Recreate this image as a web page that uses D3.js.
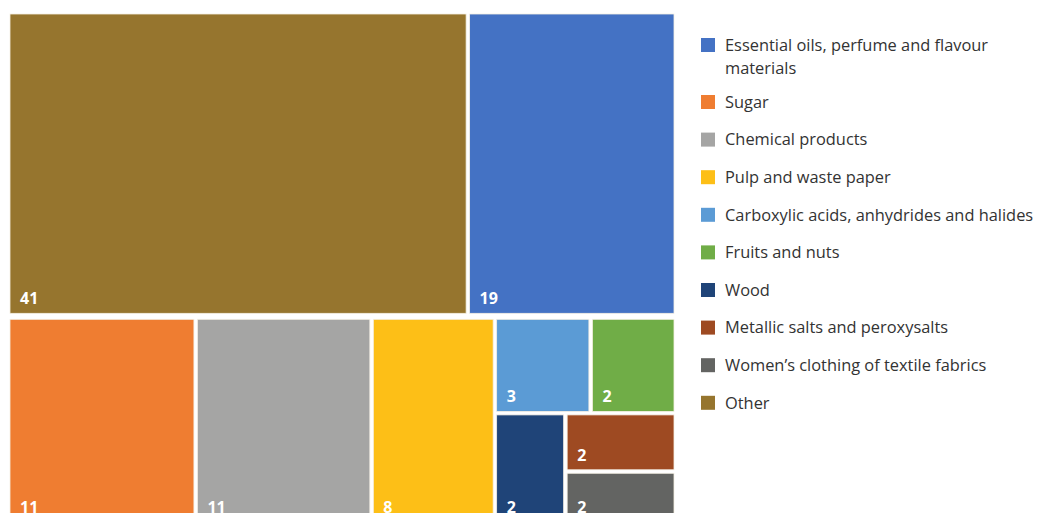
<!DOCTYPE html>
<html>
<head>
<meta charset="utf-8">
<script src="https://cdn.jsdelivr.net/npm/d3@7"></script>
<style>
  body { margin: 0; background: #fff; }
  svg { display: block; font-family: "Open Sans", "Noto Sans", sans-serif; }
</style>
</head>
<body>
<div id="chart"></div>
<script>
// categories in legend order
const categories = [
  'Essential oils, perfume and flavour materials',
  'Sugar',
  'Chemical products',
  'Pulp and waste paper',
  'Carboxylic acids, anhydrides and halides',
  'Fruits and nuts',
  'Wood',
  'Metallic salts and peroxysalts',
  'Women\u2019s clothing of textile fabrics',
  'Other'
];
const shares = [18.5, 11.4, 10.7, 7.5, 2.7, 2.4, 2.3, 1.9, 1.7, 40.9];
const labels = ['19', '11', '11', '8', '3', '2', '2', '2', '2', '41'];
const colors = ['#4472c4', '#ef7d31', '#a5a5a4', '#fdbf17', '#5b9bd5', '#70ad47',
                '#1f4478', '#9e4a22', '#636462', '#96752e'];

const width = 1040, height = 513;

const svg = d3.select('#chart').append('svg')
  .attr('width', width)
  .attr('height', height);

// group tiles the way the original layout nests them
const leaf = i => ({name: categories[i], value: shares[i], label: labels[i], color: colors[i]});
const tree = {dir: 'v', children: [
  {dir: 'h', children: [leaf(9), leaf(0)]},
  {dir: 'h', children: [leaf(1), leaf(2), leaf(3),
    {dir: 'v', children: [
      {dir: 'h', children: [leaf(4), leaf(5)]},
      {dir: 'h', children: [leaf(6), {dir: 'v', children: [leaf(7), leaf(8)]}]}
    ]}
  ]}
]};

const root = d3.hierarchy(tree).sum(d => d.value || 0);

d3.treemap()
  .tile((node, x0, y0, x1, y1) => {
    if (node.data.dir === 'v') d3.treemapSlice(node, x0, y0, x1, y1);
    else d3.treemapDice(node, x0, y0, x1, y1);
  })
  .size([664, 508])
  .paddingInner(d => d.depth === 0 ? 6 : 3.5)
  .round(false)(root);

const g = svg.append('g').attr('transform', 'translate(10,14)');

const cells = g.selectAll('g.cell')
  .data(root.leaves())
  .enter().append('g')
  .attr('class', 'cell')
  .attr('transform', d => `translate(${d.x0},${d.y0})`);

cells.append('rect')
  .attr('width', d => d.x1 - d.x0)
  .attr('height', d => d.y1 - d.y0)
  .attr('fill', d => d.data.color)
  .attr('stroke', '#f4efe4')
  .attr('stroke-width', 0.8);

cells.append('text')
  .attr('x', 10)
  .attr('y', d => d.y1 - d.y0 - 9)
  .attr('fill', '#fff')
  .style('font-size', '16px')
  .style('font-weight', 'bold')
  .text(d => d.data.label);

// legend
const legend = svg.append('g').attr('transform', 'translate(701,0)');
let ly = 45;
categories.forEach((name, i) => {
  const lines = i === 0 ? ['Essential oils, perfume and flavour', 'materials'] : [name];
  const item = legend.append('g').attr('transform', `translate(0,${ly})`);
  item.append('rect')
    .attr('x', 0).attr('y', -7)
    .attr('width', 14).attr('height', 14)
    .attr('fill', colors[i]);
  lines.forEach((t, j) => {
    item.append('text')
      .attr('x', 24)
      .attr('y', j * 23)
      .attr('dy', '0.35em')
      .attr('fill', '#333')
      .style('font-size', '16.4px')
      .text(t);
  });
  ly += 37.6 + (lines.length - 1) * 19.4;
});
</script>
</body>
</html>
